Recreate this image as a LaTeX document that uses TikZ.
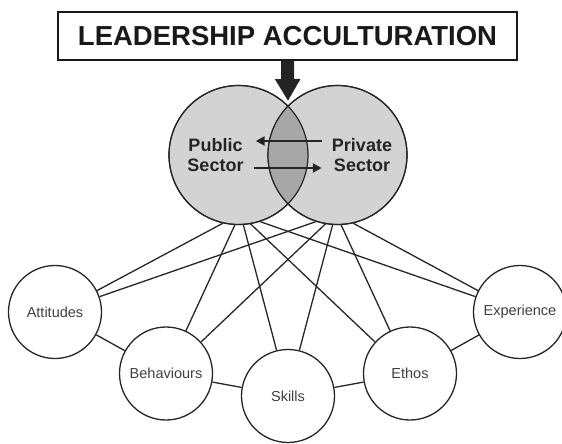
\documentclass[tikz,border=0pt]{standalone}
\usepackage{fontspec}
\setmainfont{Liberation Sans}
\usepackage{xcolor}
\usepackage{tikz}
\usetikzlibrary{arrows.meta}
\definecolor{sectorgray}{HTML}{D3D3D3}
\definecolor{lensgray}{HTML}{A7A7A7}
\definecolor{inkgray}{HTML}{242424}
\tikzset{
  titlebox/.style={rectangle, draw=black!90, line width=1.3pt, fill=white,
                   minimum width=459pt, minimum height=48pt, inner sep=0pt,
                   font=\fontsize{27.5}{30}\selectfont\bfseries, text=black!90},
  sector/.style={circle, draw=black!85, line width=1.2pt, fill=sectorgray,
                 minimum size=139pt, inner sep=0pt},
  sectorlabel/.style={align=center, inner sep=0pt, text=inkgray,
                      font=\fontsize{18}{20}\selectfont\bfseries},
  trait/.style={circle, draw=black!85, line width=1.3pt, fill=white,
                minimum size=93pt, inner sep=0pt, text=black!75,
                font=\fontsize{14.5}{16}\selectfont},
  link/.style={line width=1.3pt, draw=black!85},
  flow/.style={-{Triangle[width=9pt,length=9pt]}, line width=2.8pt, draw=inkgray},
  push/.style={-{Triangle[width=24pt,length=22pt]}, line width=13pt, draw=inkgray},
}

\begin{document}
\begin{tikzpicture}[x=1pt, y=-1pt]
    \useasboundingbox (0,0) rectangle (562,444);
    \node[titlebox] (title) at (287.5,36) {LEADERSHIP ACCULTURATION};
    \node[sector] (pub)  at (238.5,155) {};
    \node[sector] (priv) at (337.5,155) {};
    \begin{scope}
      \clip (pub.center) circle (69.5);
      \fill[lensgray] (priv.center) circle (69.5);
    \end{scope}
    \draw[black!85, line width=1.2pt] (pub.center) circle (69.5) (priv.center) circle (69.5);
    \coordinate (meet) at (288,101);
    \draw[push] (title.south) -- (meet);
    \node[sectorlabel] (pubtxt)  at (215.5,155) {Public\\Sector};
    \node[sectorlabel] (privtxt) at (362,155) {Private\\Sector};
    \draw[flow] ([xshift=-10pt,yshift=14pt]privtxt.west) -- ([xshift=12pt,yshift=14pt]pubtxt.east);
    \draw[flow] ([xshift=10pt,yshift=-13pt]pubtxt.east) -- ([xshift=-10pt,yshift=-13pt]privtxt.west);
    \node[trait] (att) at (55,312)    {Attitudes};
    \node[trait] (beh) at (166,373.5) {Behaviours};
    \node[trait] (skl) at (288,396)   {Skills};
    \node[trait] (eth) at (410,373.5) {Ethos};
    \node[trait] (exp) at (520,312)   {Experience};
    \draw[link] (pub.257)  -- (att.27);
    \draw[link] (priv.252) -- (att.19);
    \draw[link] (pub.267)  -- (beh.65);
    \draw[link] (priv.260) -- (beh.42);
    \draw[link] (pub.274)  -- (skl.104);
    \draw[link] (priv.266) -- (skl.76);
    \draw[link] (pub.280)  -- (eth.138);
    \draw[link] (priv.273) -- (eth.115);
    \draw[link] (pub.288)  -- (exp.161);
    \draw[link] (priv.283) -- (exp.153);
    \foreach \a/\b in {att/beh, beh/skl, skl/eth, eth/exp}
      \draw[link] (\a) -- (\b);
  \end{tikzpicture}
\end{document}
